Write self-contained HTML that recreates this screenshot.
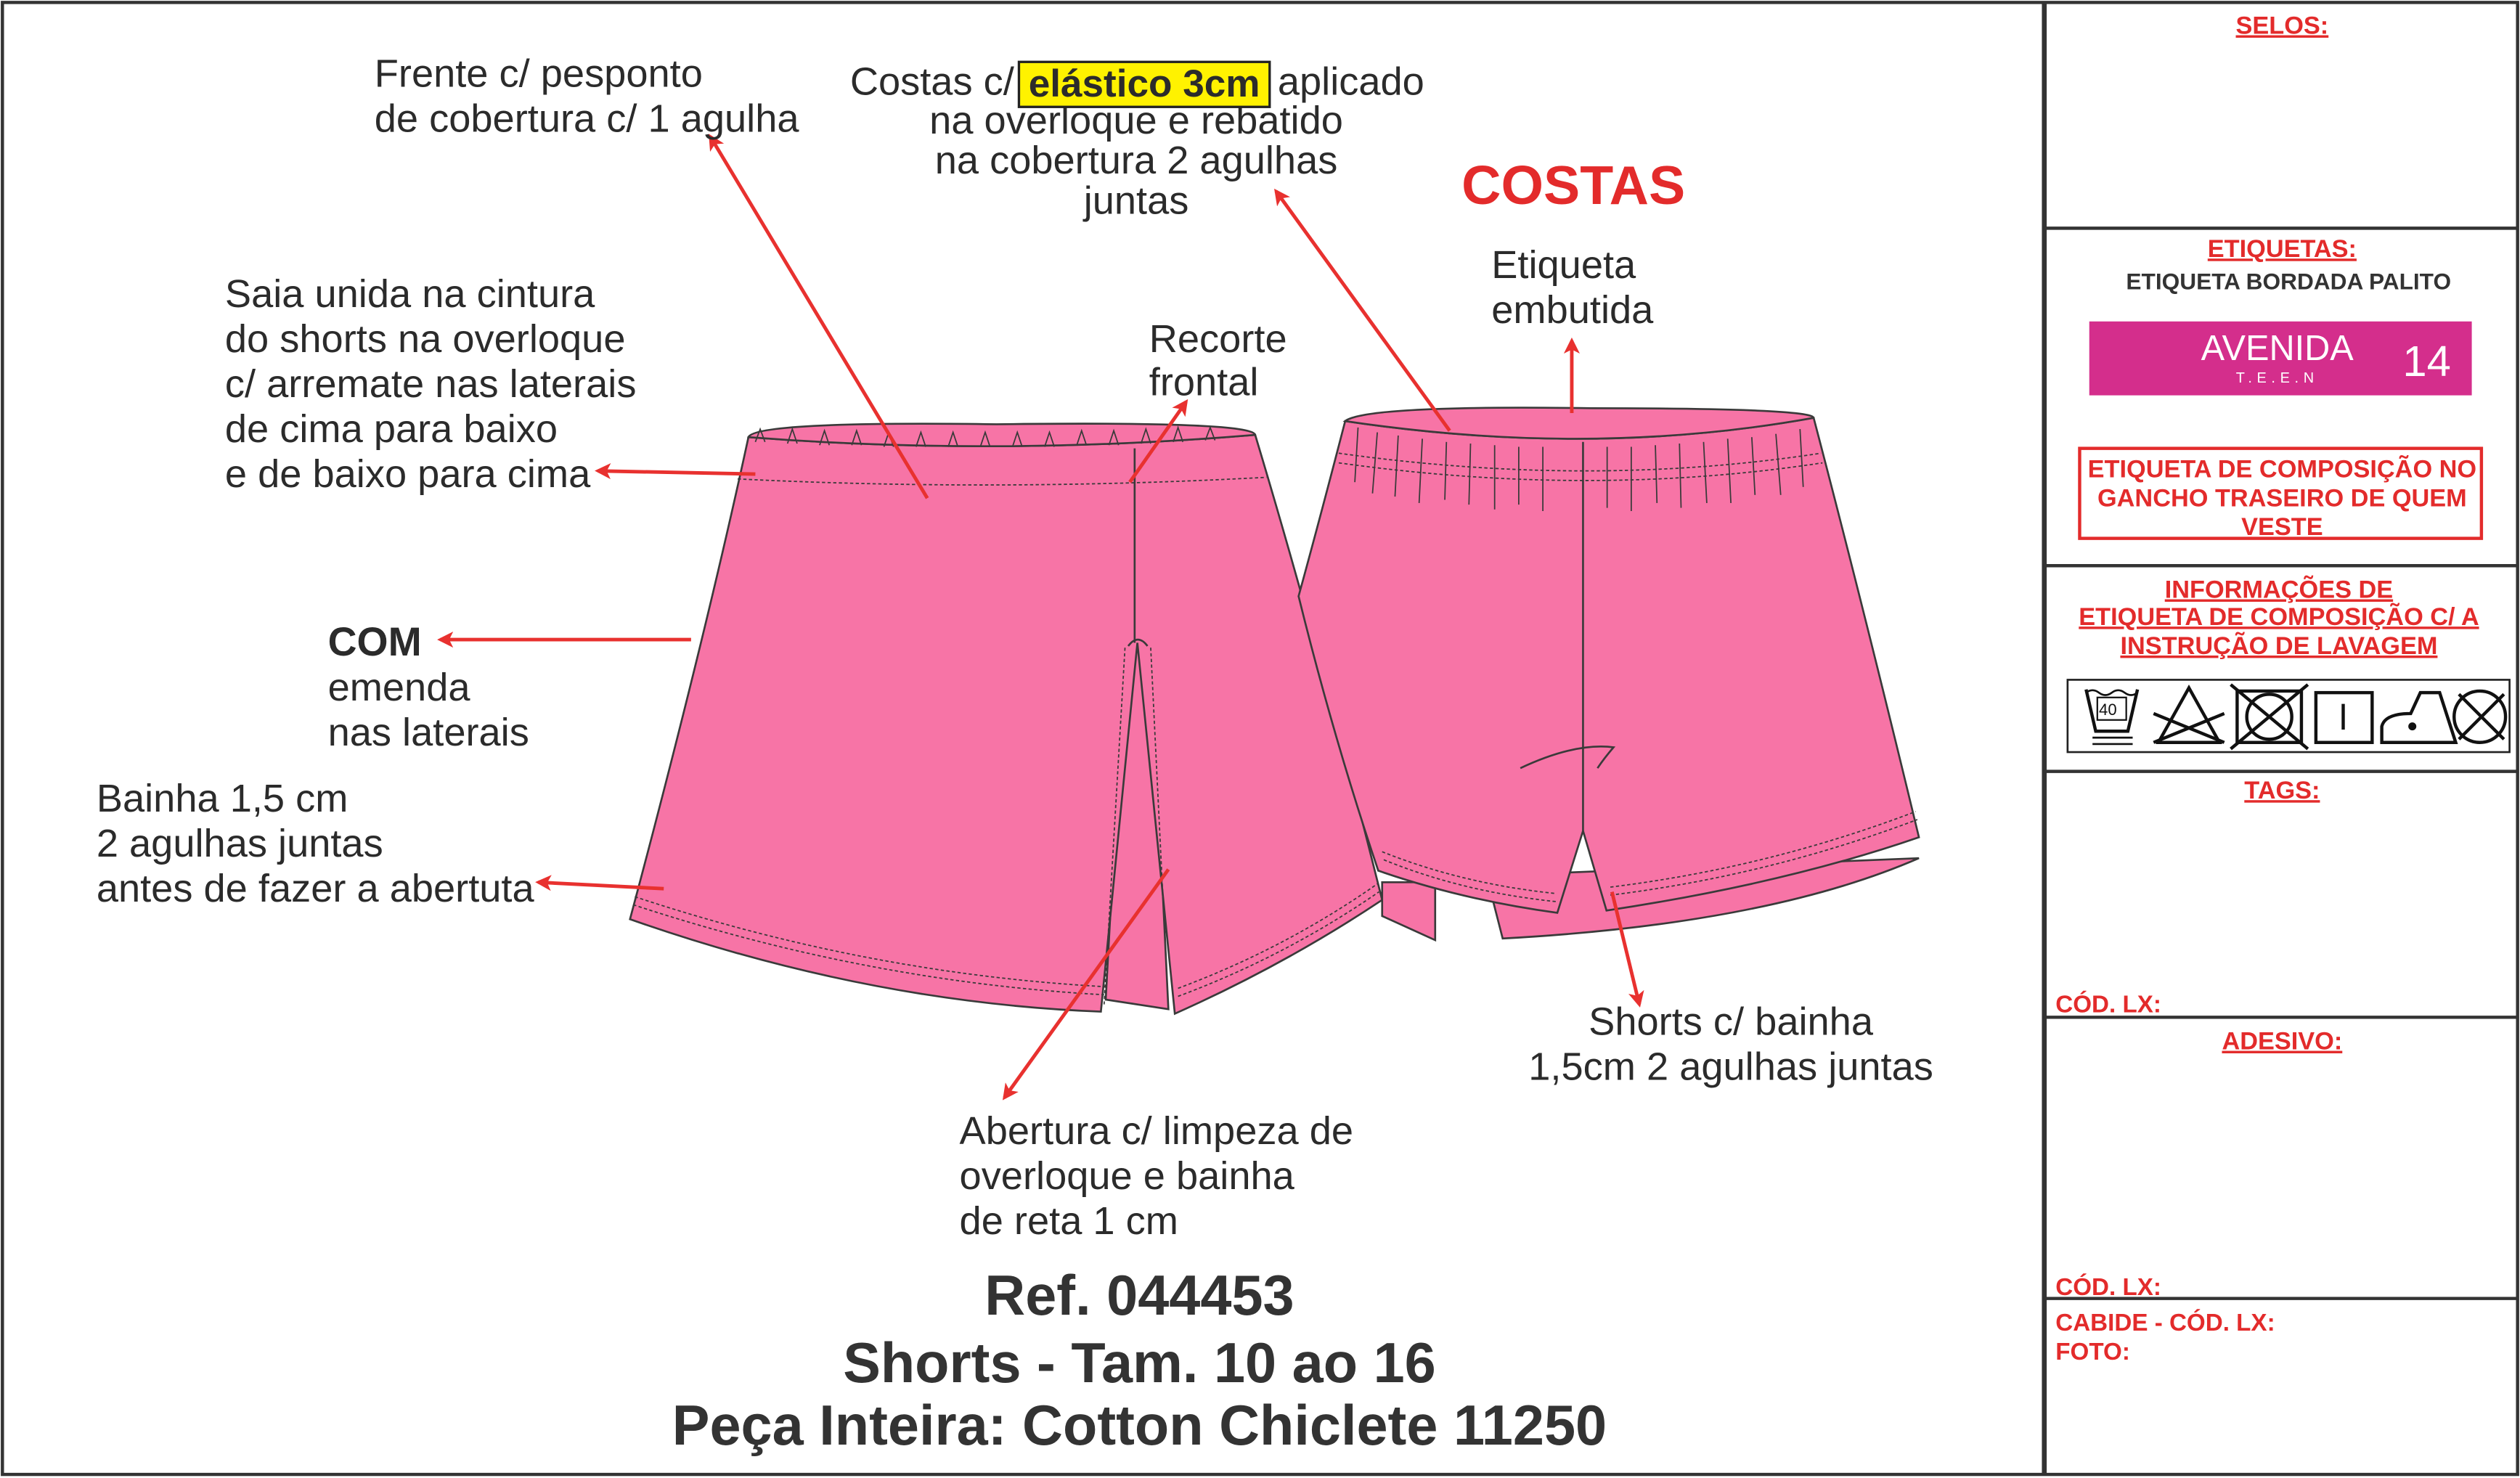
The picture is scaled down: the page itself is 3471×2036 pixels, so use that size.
<!DOCTYPE html>
<html><head><meta charset="utf-8"><style>
html,body{margin:0;padding:0;background:#fff;}
svg{display:block;}
text{font-family:"Liberation Sans",Arial,sans-serif;}
</style></head><body>
<svg width="3471" height="2036" viewBox="0 0 1568 919.7" xmlns="http://www.w3.org/2000/svg">
<defs>
<marker id="ah" markerWidth="10" markerHeight="10" refX="8" refY="5" orient="auto" markerUnits="userSpaceOnUse">
<path d="M0,0 L10,5 L0,10 L2.5,5 Z" fill="#e8312f"/>
</marker>
</defs>
<rect x="0" y="0" width="1568" height="920" fill="#fff"/>
<rect x="1.5" y="1.5" width="1565" height="916" fill="none" stroke="#333" stroke-width="2"/>
<line x1="1272" y1="1" x2="1272" y2="918" stroke="#333" stroke-width="3"/>
<g stroke="#333" stroke-width="2">
<line x1="1272" y1="142" x2="1567" y2="142"/>
<line x1="1272" y1="352" x2="1567" y2="352"/>
<line x1="1272" y1="480" x2="1567" y2="480"/>
<line x1="1272" y1="633" x2="1567" y2="633"/>
<line x1="1272" y1="808" x2="1567" y2="808"/>
</g>
<g fill="#e32b2b" font-weight="bold" font-size="15.5" text-anchor="middle" text-decoration="underline">
<text x="1420" y="21">SELOS:</text>
<text x="1420" y="160">ETIQUETAS:</text>
<text x="1418" y="372">INFORMAÇÕES DE</text>
<text x="1418" y="389">ETIQUETA DE COMPOSIÇÃO C/ A</text>
<text x="1418" y="407">INSTRUÇÃO DE LAVAGEM</text>
<text x="1420" y="497">TAGS:</text>
<text x="1420" y="653">ADESIVO:</text>
</g>
<text x="1424" y="180" fill="#333" font-weight="bold" font-size="14.3" text-anchor="middle">ETIQUETA BORDADA PALITO</text>
<rect x="1300" y="200" width="238" height="46" fill="#d42e8c"/>
<text x="1417" y="224" fill="#fff" font-size="22" text-anchor="middle">AVENIDA</text>
<text x="1417" y="238" fill="#fff" font-size="9" text-anchor="middle" letter-spacing="3">T.E.E.N</text>
<text x="1510" y="234" fill="#fff" font-size="27" text-anchor="middle">14</text>
<rect x="1294" y="279" width="250" height="56" fill="none" stroke="#e32b2b" stroke-width="2"/>
<g fill="#e32b2b" font-weight="bold" font-size="15.5" text-anchor="middle">
<text x="1420" y="297">ETIQUETA DE COMPOSIÇÃO NO</text>
<text x="1420" y="315">GANCHO TRASEIRO DE QUEM</text>
<text x="1420" y="333">VESTE</text>
</g>
<rect x="1286.5" y="423" width="275" height="45" fill="#fff" stroke="#222" stroke-width="1.2"/>
<g fill="none" stroke="#111" stroke-width="2">
<path d="M1298,429 L1304,455 L1324,455 L1330,429"/>
<path d="M1298,431 q4,-3 8,0 q4,3 8,0 q4,-3 8,0 q4,3 8,0" stroke-width="1.2"/>
<rect x="1305" y="434" width="18" height="14" stroke-width="1"/>
<line x1="1302" y1="459" x2="1327" y2="459" stroke-width="1.2"/>
<line x1="1302" y1="463" x2="1327" y2="463" stroke-width="1.2"/>
<path d="M1343,462 L1362,428 L1381,462 Z"/>
<line x1="1340" y1="444" x2="1384" y2="462"/><line x1="1340" y1="462" x2="1384" y2="444"/>
<rect x="1392" y="430" width="40" height="32"/><circle cx="1412" cy="446" r="14"/>
<line x1="1388" y1="426" x2="1436" y2="466"/><line x1="1388" y1="466" x2="1436" y2="426"/>
<rect x="1441" y="431" width="35" height="31"/><line x1="1458" y1="438" x2="1458" y2="454"/>
<path d="M1482,462 L1482,452 Q1484,444 1500,444 L1506,431 L1518,431 L1528,462 Z"/>
<circle cx="1501" cy="452" r="1.5" fill="#111"/>
<circle cx="1543" cy="446" r="16"/>
<line x1="1530" y1="432" x2="1558" y2="460"/><line x1="1530" y1="460" x2="1558" y2="432"/>
</g>
<text x="1306" y="445" font-size="10" fill="#111">40</text>
<g fill="#e32b2b" font-weight="bold" font-size="15">
<text x="1279" y="630">CÓD. LX:</text>
<text x="1279" y="806">CÓD. LX:</text>
<text x="1279" y="828">CABIDE - CÓD. LX:</text>
<text x="1279" y="846">FOTO:</text>
</g>

<!-- FRONT SHORTS -->
<g stroke="#3a3a3a" stroke-width="1.2" fill="#f774a6">
<path d="M700,400 L716,400 L727,628 L688,622 Z"/>
<path d="M465.7,272 Q438,400 392,572 Q540,624 685,629.5 L707.7,400 L731,630.8 Q800,600 860,560 Q820,400 781,270.6 Q620,284 465.7,272 Z"/>
<path d="M465.7,272 Q470,262 620,264 Q780,262 781,270.6 Q620,284 465.7,272 Z"/>
<line x1="706" y1="279" x2="706" y2="400" fill="none"/>
<path d="M702,402 Q708,394 714,402" fill="none"/>
</g>
<g fill="none" stroke="#3a3a3a" stroke-width="0.8">
<path d="M470,275 l3,-8 l3,8 M490,276 l3,-9 l3,9 M510,277 l3,-9 l3,9 M530,277 l3,-9 l3,9 M550,278 l3,-9 l3,9 M570,278 l3,-9 l3,9 M590,278 l3,-9 l3,9 M610,278 l3,-9 l3,9 M630,278 l3,-9 l3,9 M650,278 l3,-9 l3,9 M670,277 l3,-9 l3,9 M690,277 l3,-9 l3,9 M710,276 l3,-9 l3,9 M730,275 l3,-9 l3,9 M750,274 l3,-8 l3,8"/>
<path d="M459,298 Q620,306 788,297" stroke-dasharray="2,1.5"/>
<path d="M395,558 Q540,606 688,614" stroke-dasharray="2,1.5"/>
<path d="M394,563 Q540,611 687,619" stroke-dasharray="2,1.5"/>
<path d="M733,615 Q800,590 857,550" stroke-dasharray="2,1.5"/>
<path d="M733,620 Q800,595 858,555" stroke-dasharray="2,1.5"/>
<path d="M700,403 L687,625 M716,403 L727,628" stroke-dasharray="2,1.5"/>
</g>

<!-- BACK SHORTS -->
<g stroke="#3a3a3a" stroke-width="1.2" fill="#f774a6">
<path d="M860,549 L893,549 L893,585 L860,570 Z"/>
<path d="M925,545 L1194,534 Q1100,575 935,584 Z"/>
<path d="M837,262 Q822,320 808,371 Q830,460 857.6,541.8 Q910,560 969,568 L985,517 L999.6,566.6 Q1110,550 1194,521 Q1160,380 1128.5,260 Q990,285 837,262 Z"/>
<path d="M837,262 Q850,252 990,254 Q1128,254 1128.5,260 Q990,285 837,262 Z"/>
<line x1="985" y1="275" x2="985" y2="517" fill="none"/>
<path d="M946,478 Q980,462 1004,465 Q998,472 994,478" fill="none"/>
</g>
<g fill="none" stroke="#3a3a3a" stroke-width="0.8">
<path d="M845,266 l-2,34 M857,269 l-3,38 M870,271 l-2,38 M885,273 l-2,40 M900,275 l-1,36 M915,276 l-1,38 M930,277 l0,40 M945,278 l0,36 M960,278 l0,40 M1000,278 l0,38 M1015,278 l0,40 M1030,277 l1,36 M1045,276 l1,40 M1060,275 l2,38 M1075,273 l2,40 M1090,272 l2,36 M1105,270 l3,38 M1120,267 l2,36"/>
<path d="M833,282 Q990,304 1133,282" stroke-dasharray="2,1.5"/>
<path d="M833,288 Q990,310 1134,288" stroke-dasharray="2,1.5"/>
<path d="M860,530 Q910,550 968,556" stroke-dasharray="2,1.5"/>
<path d="M861,535 Q910,555 968,561" stroke-dasharray="2,1.5"/>
<path d="M1002,552 Q1100,540 1192,505" stroke-dasharray="2,1.5"/>
<path d="M1002,557 Q1100,545 1193,510" stroke-dasharray="2,1.5"/>
</g>

<!-- ARROWS -->
<g stroke="#e8312f" stroke-width="2.2" fill="none" marker-end="url(#ah)">
<line x1="577" y1="310" x2="442" y2="85"/>
<line x1="902" y1="268" x2="794" y2="119"/>
<line x1="978" y1="257" x2="978" y2="212"/>
<line x1="703" y1="300" x2="738" y2="250"/>
<line x1="470" y1="295" x2="372" y2="293"/>
<line x1="430" y1="398" x2="274" y2="398"/>
<line x1="413" y1="553" x2="335" y2="549"/>
<line x1="727" y1="541" x2="625" y2="683"/>
<line x1="1003" y1="555" x2="1020" y2="625"/>
</g>

<!-- LABELS -->
<g fill="#2b2b2b" font-size="24.5">
<text x="233" y="54">Frente c/ pesponto</text>
<text x="233" y="82">de cobertura c/ 1 agulha</text>
<text x="140" y="191">Saia unida na cintura</text>
<text x="140" y="219">do shorts na overloque</text>
<text x="140" y="247">c/ arremate nas laterais</text>
<text x="140" y="275">de cima para baixo</text>
<text x="140" y="303">e de baixo para cima</text>
<text x="204" y="436">emenda</text>
<text x="204" y="464">nas laterais</text>
<text x="60" y="505">Bainha 1,5 cm</text>
<text x="60" y="533">2 agulhas juntas</text>
<text x="60" y="561">antes de fazer a abertuta</text>
<text x="597" y="712">Abertura c/ limpeza de</text>
<text x="597" y="740">overloque e bainha</text>
<text x="597" y="768">de reta 1 cm</text>
<text x="715" y="219">Recorte</text>
<text x="715" y="246">frontal</text>
<text x="928" y="173">Etiqueta</text>
<text x="928" y="201">embutida</text>
<text x="1077" y="644" text-anchor="middle">Shorts c/ bainha</text>
<text x="1077" y="672" text-anchor="middle">1,5cm 2 agulhas juntas</text>
<text x="631" y="59" text-anchor="end">Costas c/</text>
<text x="795" y="59">aplicado</text>
<text x="707" y="83" text-anchor="middle">na overloque e rebatido</text>
<text x="707" y="108" text-anchor="middle">na cobertura 2 agulhas</text>
<text x="707" y="133" text-anchor="middle">juntas</text>
</g>
<rect x="634" y="38.5" width="156" height="28" fill="#fff200" stroke="#222" stroke-width="1.5"/>
<text x="712" y="60" fill="#2b2b2b" font-size="24" font-weight="bold" text-anchor="middle">elástico 3cm</text>
<text x="204" y="408" fill="#2b2b2b" font-size="25" font-weight="bold">COM</text>
<text x="979" y="127" fill="#e32b2b" font-size="34" font-weight="bold" text-anchor="middle">COSTAS</text>
<g fill="#333" font-size="35" font-weight="bold" text-anchor="middle">
<text x="709" y="818">Ref. 044453</text>
<text x="709" y="860">Shorts - Tam. 10 ao 16</text>
<text x="709" y="899">Peça Inteira: Cotton Chiclete 11250</text>
</g>
</svg>
</body></html>
